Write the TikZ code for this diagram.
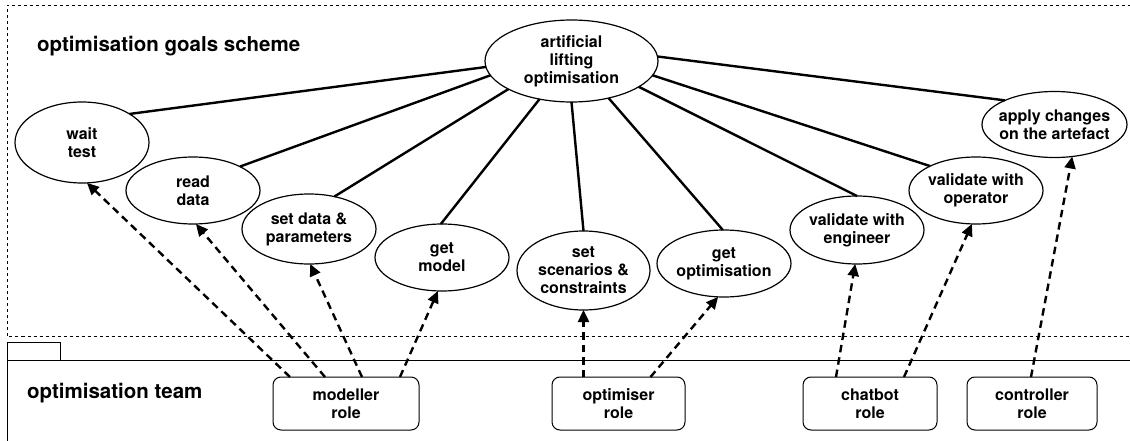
\documentclass[tikz,border=0pt]{standalone}
\usepackage{fontspec}
\setmainfont{TeX Gyre Heros}
\usetikzlibrary{arrows.meta,shapes.geometric}
\tikzset{
  goal/.style={ellipse, draw, line width=1.2pt, inner sep=0pt, outer sep=0pt},
  gtxt/.style={font=\fontsize{16}{18}\selectfont\bfseries, align=center, inner sep=0pt},
  rolebox/.style={draw, rounded corners=8pt, line width=1pt, minimum height=53pt, inner sep=0pt, outer sep=0pt,
    align=center, font=\fontsize{16}{18}\selectfont\bfseries},
  tie/.style={line width=2.4pt},
  uses/.style={line width=2.4pt, dash pattern=on 7.5pt off 5pt, -{Triangle[length=12pt,width=11pt]}},
  frameline/.style={line width=0.9pt, dash pattern=on 3pt off 3pt},
  pkgline/.style={line width=1pt},
  ttl/.style={font=\fontsize{20.5}{24}\selectfont\bfseries, anchor=base west, inner sep=0pt},
}
\begin{document}
\begin{tikzpicture}[x=1pt,y=-1pt]
\useasboundingbox (0,0) rectangle (1130,441);
% frames
\draw[frameline] (1131,5) -- (7,5) -- (7,336.5) -- (1131,336.5);
\draw[pkgline] (7,360) -- (7,342) -- (60,342) -- (60,360);
\draw[pkgline] (7,442) -- (7,360) -- (1131,360);
\node[ttl] (gtitle) at (37,52) {optimisation goals scheme};
\node[ttl] (ttitle) at (27,398) {optimisation team};
% goals
\node[goal, minimum width=173pt, minimum height=82pt, label={[gtxt]center:artificial\\lifting\\optimisation}] (alo) at (571.5,61) {};
\node[goal, minimum width=134pt, minimum height=81pt, label={[gtxt]center:wait\\test}] (wait) at (82,142.5) {};
\node[goal, minimum width=134pt, minimum height=67pt, label={[gtxt]center:read\\data}] (read) at (193,190.5) {};
\node[goal, minimum width=134pt, minimum height=70pt, label={[gtxt]center:set data \&\\parameters}] (setd) at (309,229) {};
\node[goal, minimum width=134pt, minimum height=67pt, label={[gtxt]center:get\\model}] (getm) at (442,257.5) {};
\node[goal, minimum width=133pt, minimum height=79pt, label={[gtxt]center:set\\scenarios \&\\constraints}] (scen) at (583.5,270.5) {};
\node[goal, minimum width=134pt, minimum height=67pt, label={[gtxt]center:get\\optimisation}] (geto) at (724,263.5) {};
\node[goal, minimum width=134pt, minimum height=68pt, label={[gtxt]center:validate with\\engineer}] (veng) at (857,230) {};
\node[goal, minimum width=134pt, minimum height=67pt, label={[gtxt]center:validate with\\operator}] (vop) at (976,190.5) {};
\node[goal, minimum width=145pt, minimum height=66pt, label={[gtxt]center:apply changes\\on the artefact}] (appl) at (1054.5,124.5) {};
% roles
\node[rolebox, minimum width=146pt] (mod) at (346,403.5) {modeller\\role};
\node[rolebox, minimum width=133pt] (opt) at (618.5,403.5) {optimiser\\role};
\node[rolebox, minimum width=134pt] (chat) at (870,403.5) {chatbot\\role};
\node[rolebox, minimum width=130pt] (ctrl) at (1032,403.5) {controller\\role};
% solid ties
\draw[tie] (alo.-176) -- (wait.31);
\draw[tie] (alo.-170) -- (read.27);
\draw[tie] (alo.-156) -- (setd.52);
\draw[tie] (alo.-130) -- (getm.92);
\draw[tie] (alo.-90) -- (scen.90);
\draw[tie] (alo.-45) -- (geto.92);
\draw[tie] (alo.-21) -- (veng.90);
\draw[tie] (alo.-10) -- (vop.152);
\draw[tie] (alo.3) -- (appl.154);
% dashed arrows
\draw[uses] ([xshift=-56pt]mod.north) -- (wait.-83);
\draw[uses] ([xshift=-21pt]mod.north) -- (read.-85);
\draw[uses] ([xshift=16pt]mod.north) -- (setd.-88);
\draw[uses] ([xshift=54pt]mod.north) -- (getm.-97);
\draw[uses] ([xshift=-35pt]opt.north) -- (scen.-90);
\draw[uses] ([xshift=32pt]opt.north) -- (geto.-100);
\draw[uses] ([xshift=-34pt]chat.north) -- (veng.-93);
\draw[uses] ([xshift=34pt]chat.north) -- (vop.-97);
\draw[uses] ([xshift=-1pt]ctrl.north) -- (appl.-61);
\end{tikzpicture}
\end{document}
